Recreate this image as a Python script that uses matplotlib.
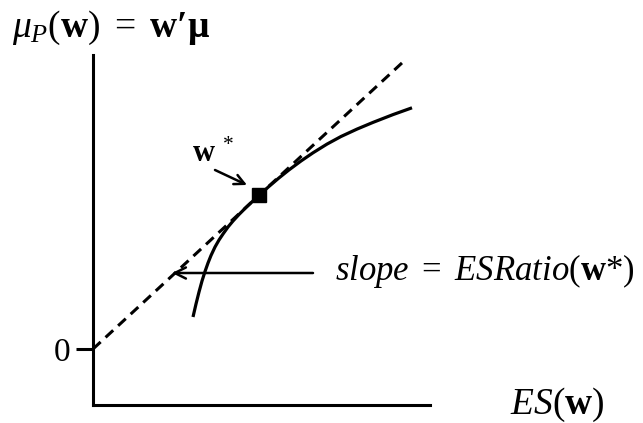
import matplotlib
matplotlib.use("Agg")
import matplotlib.pyplot as plt

plt.rcParams["mathtext.fontset"] = "custom"
plt.rcParams["mathtext.rm"] = "Liberation Serif"
plt.rcParams["mathtext.it"] = "Liberation Serif:italic"
plt.rcParams["mathtext.bf"] = "Liberation Serif:bold"
plt.rcParams["font.family"] = ["Liberation Serif", "DejaVu Serif"]

# Mean-ES frontier (ES on x, portfolio mean on y)
frontier_es = [1.00, 1.03, 1.06, 1.09, 1.12, 1.15, 1.18, 1.22, 1.26, 1.30, 1.35,
               1.40, 1.46, 1.53, 1.60, 1.66, 1.76, 1.86, 1.96, 2.08, 2.20, 2.34,
               2.48, 2.64, 2.80, 3.00, 3.19]
frontier_mu = [0.32, 0.45, 0.57, 0.68, 0.775, 0.86, 0.935, 1.02, 1.09, 1.15, 1.22,
               1.28, 1.345, 1.415, 1.481, 1.536, 1.626, 1.711, 1.791, 1.88, 1.962,
               2.049, 2.125, 2.199, 2.266, 2.344, 2.412]

# Tangent line from the origin (slope = ESRatio of the tangency portfolio)
tangent_es = [0.0, 3.10]
tangent_mu = [0.0, 2.87]

# Tangency portfolio w*
tangency_es = [1.66]
tangency_mu = [1.536]

ytick_values = [0.0]
ytick_labels = ["0"]

fig = plt.figure(figsize=(6.43, 4.23), dpi=100)
ax = fig.add_axes([93 / 643, 18 / 423, 337 / 643, 350 / 423])
ax.set_xlim(0, 3.37)
ax.set_ylim(-0.56, 2.94)

for side in ("top", "right"):
    ax.spines[side].set_visible(False)
for side in ("left", "bottom"):
    ax.spines[side].set_linewidth(2.2)
    ax.spines[side].set_color("black")

ax.set_xticks([])
ax.set_yticks(ytick_values)
ax.set_yticklabels(ytick_labels, fontsize=24)
ax.tick_params(axis="y", length=12, width=2.2, direction="out", pad=4)

ax.plot(tangent_es, tangent_mu, color="black", lw=2.2, ls=(0, (3.4, 2.2)),
        clip_on=False, zorder=2)
ax.plot(frontier_es, frontier_mu, color="black", lw=2.3, solid_capstyle="butt",
        solid_joinstyle="round", clip_on=False, zorder=3)
ax.plot(tangency_es, tangency_mu, marker="s", ms=9.5, color="black", ls="none",
        clip_on=False, zorder=4)

# w* label with pointer
ax.annotate("", xy=(1.54, 1.64), xytext=(1.22, 1.79),
            arrowprops=dict(arrowstyle="->", lw=1.8, color="black",
                            mutation_scale=18, shrinkA=0, shrinkB=0),
            annotation_clip=False)
ax.text(0.99, 1.87, r"$\mathbf{w}^{\ *}$", fontsize=22, ha="left",
        va="baseline", clip_on=False)

# slope label with pointer to the tangent line
ax.annotate("", xy=(0.79, 0.76), xytext=(2.20, 0.76),
            arrowprops=dict(arrowstyle="->", lw=1.8, color="black",
                            mutation_scale=20, shrinkA=0, shrinkB=0),
            annotation_clip=False)
ax.text(2.42, 0.78, r"$slope\ =\ ESRatio(\mathbf{w}$*$)$", fontsize=25,
        ha="left", va="center", clip_on=False)

# axis titles
ax.text(-0.81, 3.21, r"$\mu_P(\mathbf{w})\ =\ \mathbf{w′\mu}$", fontsize=27,
        ha="left", va="center", clip_on=False)
ax.text(4.17, -0.56, r"$ES(\mathbf{w})$", fontsize=27, ha="left", va="center",
        clip_on=False)

fig.savefig("out.png", dpi=100)
